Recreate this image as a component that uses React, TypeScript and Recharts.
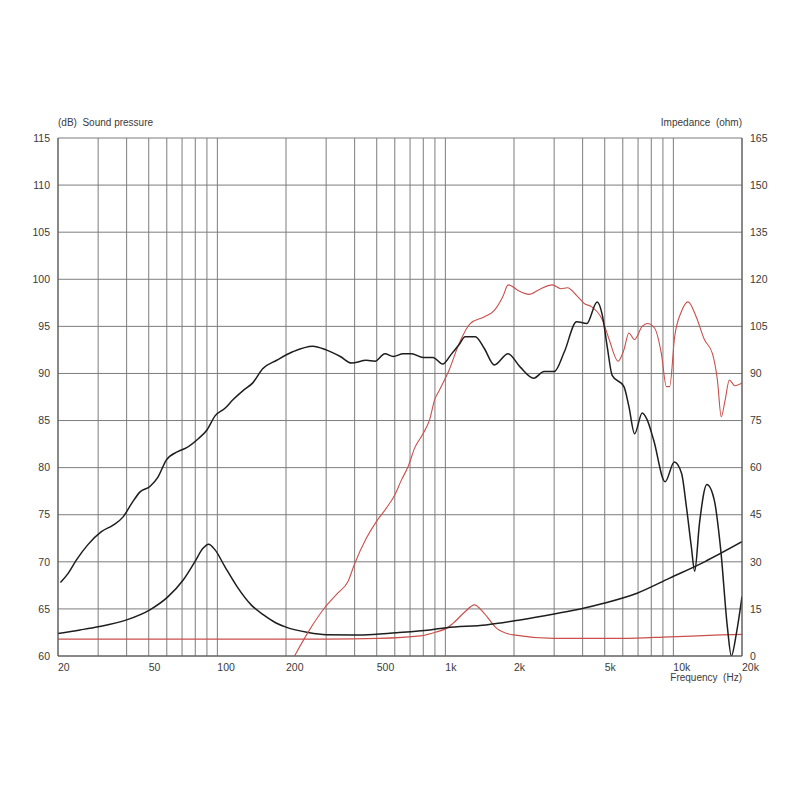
import { LineChart, Line, XAxis, YAxis, CartesianGrid } from "recharts";

// frequency grid + labels
const gridFreqs = [
  20, 30, 40, 50, 60, 70, 80, 90, 100, 200, 300, 400, 500, 600, 700, 800, 900,
  1000, 2000, 3000, 4000, 5000, 6000, 7000, 8000, 9000, 10000, 20000,
];
const minorFreqs = [25, 35, 45, 150, 250, 350, 450, 1500, 2500, 3500, 4500, 15000];
const labelFreqs = [20, 50, 100, 200, 500, 1000, 2000, 5000, 10000, 20000];
const labelTexts = ["20", "50", "100", "200", "500", "1k", "2k", "5k", "10k", "20k"];

const splTicks = [60, 65, 70, 75, 80, 85, 90, 95, 100, 105, 110, 115];
const ohmTicks = [0, 15, 30, 45, 60, 75, 90, 105, 120, 135, 150, 165];

// sound pressure, black curve (dB)
const splBlackFreq = [
  20.5, 22.2, 24.1, 27, 31, 34.9, 38.7, 42.1, 45.7, 50.6, 54.9, 59.7, 67, 73,
  82.7, 90, 97.7, 108, 117, 130, 143, 158, 182, 214, 262, 300, 346, 388, 450,
  491, 543, 591, 653, 711, 799, 882, 974, 1058, 1152, 1220, 1354, 1478, 1640,
  1884, 2126, 2441, 2708, 3001, 3326, 3763, 4170, 4630, 4880, 5130, 5390, 6070,
  6380, 6760, 7300, 7670, 8200, 9200, 10100, 10860, 11400, 11990, 12400, 13020,
  14030, 15100, 16130, 17250, 17960, 18900, 20000,
];
const splBlack = [
  67.8, 68.8, 70.2, 71.8, 73.2, 73.9, 74.8, 76.2, 77.4, 78, 79, 80.8, 81.7, 82.1,
  83.1, 84, 85.5, 86.3, 87.2, 88.2, 89, 90.5, 91.4, 92.3, 92.9, 92.5, 91.8, 91.1,
  91.4, 91.3, 92.1, 91.8, 92.1, 92.1, 91.7, 91.7, 91.0, 92.0, 93.1, 93.9, 93.9,
  92.7, 90.9, 92.1, 90.7, 89.5, 90.2, 90.2, 92.3, 95.5, 95.3, 97.6, 96.2, 92.8,
  89.8, 88.6, 86.5, 83.6, 85.8, 85.1, 82.9, 78.5, 80.6, 79.4, 75.9, 71.6, 69.0,
  74.1, 78.2, 76.6, 71.3, 63.1, 60, 62.4, 66.3,
];

// sound pressure, red curve (dB)
const splRedFreq = [
  218, 254, 295, 338, 374, 400, 450, 499, 551, 600, 642, 686, 734, 798, 853, 897,
  940, 1040, 1150, 1285, 1478, 1640, 1790, 1884, 2126, 2330, 2575, 2950, 3210,
  3430, 3760, 4080, 4370, 4880, 5230, 5720, 6070, 6380, 6750, 7300, 7690, 8280,
  8860, 9320, 9630, 10130, 10860, 11600, 12600, 13680, 14840, 15600, 16220,
  16870, 17600, 18600, 20000,
];
const splRed = [
  60, 62.8, 65.1, 66.7, 67.9, 69.8, 72.5, 74.3, 75.7, 77.1, 78.7, 80.1, 82.1,
  83.6, 85.1, 87.2, 88.2, 90.4, 93.2, 95.3, 96.0, 96.7, 98.2, 99.4, 98.7, 98.4,
  98.9, 99.4, 99.0, 99.1, 98.3, 97.4, 97.1, 95.7, 93.6, 91.3, 92.5, 94.3, 93.6,
  95.0, 95.3, 94.8, 92.1, 88.6, 88.6, 93.9, 96.6, 97.6, 96.0, 93.6, 92.1, 89.3,
  85.4, 87.2, 89.3, 88.7, 89.0,
];

// impedance, black curve (ohm)
const impBlackFreq = [
  20, 25, 30, 40, 50.6, 60.8, 70.8, 79.6, 86.5, 91.5, 97.7, 108, 122, 141, 160,
  180, 200, 250, 300, 436, 610, 853, 1010, 1507, 2126, 3000, 4030, 4950, 6930,
  9630, 13700, 20000,
];
const impBlack = [
  7.2, 8.3, 9.3, 11.5, 14.7, 18.9, 24.2, 30, 34.3, 35.6, 33.8, 28.4, 22.1, 16.2,
  13.0, 10.6, 9.2, 7.5, 6.8, 6.7, 7.4, 8.3, 9.0, 9.9, 11.5, 13.4, 15.2, 16.8, 20,
  24.8, 30, 36.4,
];

// impedance, red curve (ohm)
const impRedFreq = [
  20, 300, 510, 777, 915, 1010, 1080, 1220, 1340, 1480, 1680, 1990, 3000, 5950,
  9630, 16100, 20000,
];
const impRed = [
  5.4, 5.4, 5.6, 6.4, 7.7, 8.8, 10.4, 14.1, 16.3, 13.6, 8.8, 6.7, 5.6, 5.6, 6.1,
  6.7, 6.9,
];

const zip = (fs: number[], vs: number[]) => fs.map((f, i) => ({ f, v: vs[i] }));

const FONT = "'Liberation Sans', Arial, sans-serif";
const TEXT = "#3a3a3a";
const GRID = "#7d7d7d";

const FreqTick = (props: any) => {
  const { x, y, payload } = props;
  const idx = labelFreqs.indexOf(payload.value);
  if (idx < 0) return <g />;
  return (
    <text x={x} y={y} dy="0.71em" textAnchor="start" fontSize={10.5} fill={TEXT} fontFamily={FONT}>
      {labelTexts[idx]}
    </text>
  );
};

export default function App() {
  const tickStyle = { fontSize: 10.5, fill: TEXT, fontFamily: FONT };
  const titleStyle = {
    position: "absolute" as const,
    fontSize: 10,
    lineHeight: "12px",
    fontFamily: FONT,
    color: TEXT,
    whiteSpace: "pre" as const,
  };
  return (
    <div style={{ position: "absolute", left: 0, top: 0, width: 800, height: 800, background: "#fff" }}>
      <div style={{ ...titleStyle, left: 58, top: 117 }}>{"(dB)  Sound pressure"}</div>
      <div style={{ ...titleStyle, right: 58, top: 117 }}>{"Impedance  (ohm)"}</div>
      <div style={{ ...titleStyle, right: 58, top: 672 }}>{"Frequency  (Hz)"}</div>
      <LineChart
        width={800}
        height={800}
        margin={{ top: 138, right: 8, bottom: 114, left: 8 }}
      >
        <CartesianGrid yAxisId="left" stroke={GRID} strokeWidth={1} />
        {/* little inward ticks on top and bottom edges */}
        <XAxis
          xAxisId="minorTop"
          dataKey="f"
          type="number"
          scale="log"
          orientation="top"
          domain={[20, 20000]}
          ticks={minorFreqs}
          interval={0}
          height={0}
          mirror
          tick={false}
          tickSize={4}
          tickLine={{ stroke: GRID }}
          axisLine={false}
        />
        <XAxis
          xAxisId="minorBottom"
          dataKey="f"
          type="number"
          scale="log"
          orientation="bottom"
          domain={[20, 20000]}
          ticks={minorFreqs}
          interval={0}
          height={0}
          mirror
          tick={false}
          tickSize={4}
          tickLine={{ stroke: GRID }}
          axisLine={false}
        />
        <XAxis
          dataKey="f"
          type="number"
          scale="log"
          domain={[20, 20000]}
          ticks={gridFreqs}
          interval={0}
          allowDataOverflow
          height={30}
          tickLine={false}
          axisLine={{ stroke: "#555" }}
          tick={<FreqTick />}
        />
        <YAxis
          yAxisId="left"
          domain={[60, 115]}
          ticks={splTicks}
          interval={0}
          allowDataOverflow
          width={50}
          tickLine={false}
          axisLine={{ stroke: "#555" }}
          tick={tickStyle}
        />
        <YAxis
          yAxisId="right"
          orientation="right"
          domain={[0, 165]}
          ticks={ohmTicks}
          interval={0}
          allowDataOverflow
          width={50}
          tickLine={false}
          axisLine={{ stroke: "#555" }}
          tick={{ ...tickStyle, textAnchor: "start" }}
        />
        <Line
          yAxisId="right"
          data={zip(impRedFreq, impRed)}
          dataKey="v"
          type="monotone"
          stroke="#c9504c"
          strokeWidth={1.2}
          dot={false}
          isAnimationActive={false}
        />
        <Line
          yAxisId="right"
          data={zip(impBlackFreq, impBlack)}
          dataKey="v"
          type="monotone"
          stroke="#1e1e1e"
          strokeWidth={1.5}
          dot={false}
          isAnimationActive={false}
        />
        <Line
          yAxisId="left"
          data={zip(splRedFreq, splRed)}
          dataKey="v"
          type="monotone"
          stroke="#c9504c"
          strokeWidth={1.1}
          dot={false}
          isAnimationActive={false}
        />
        <Line
          yAxisId="left"
          data={zip(splBlackFreq, splBlack)}
          dataKey="v"
          type="monotone"
          stroke="#1e1e1e"
          strokeWidth={1.5}
          dot={false}
          isAnimationActive={false}
        />
      </LineChart>
    </div>
  );
}
